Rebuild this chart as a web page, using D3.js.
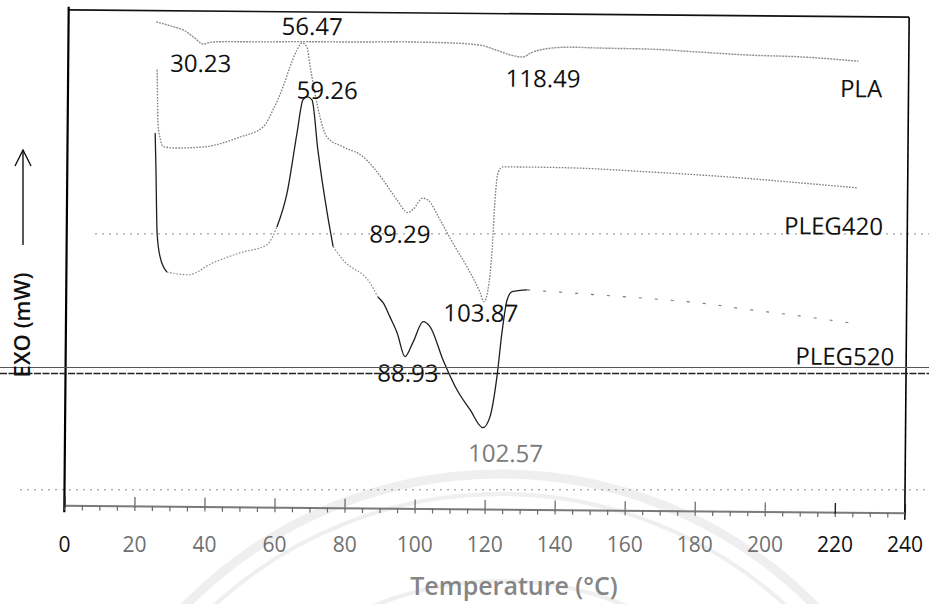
<!DOCTYPE html>
<html>
<head>
<meta charset="utf-8">
<script src="https://cdn.jsdelivr.net/npm/d3@7"></script>
<style>
  html, body { margin: 0; padding: 0; background: #fff; }
  svg { display: block; }
  text { font-family: "Open Sans", "Noto Sans", sans-serif; }
</style>
</head>
<body>
<svg id="chart" width="929" height="604"></svg>
<script>
// DSC heating scans: temperature (°C) and heat flow (mW, exo up)
const tempPLA = [25.0, 29.0, 33.3, 36.1, 38.4, 41.0, 46.1, 54.7, 66.1, 80.4, 94.7, 109.0, 117.5, 121.9, 126.2, 129.9, 131.9, 136.2, 143.3, 151.9, 166.2, 180.4, 194.7, 209.0, 225.6];
const flowPLA = [3.27, 3.21, 3.13, 3.02, 2.93, 2.96, 2.97, 2.97, 2.98, 2.98, 2.99, 2.98, 2.95, 2.88, 2.80, 2.77, 2.83, 2.90, 2.93, 2.92, 2.91, 2.87, 2.83, 2.81, 2.75];

const tempPLEG420 = [25.4, 25.6, 25.8, 26.4, 27.3, 30.7, 38.7, 49.2, 55.8, 58.6, 61.4, 63.3, 65.3, 66.7, 68.1, 69.1, 70.5, 72.0, 74.1, 78.7, 84.4, 87.3, 90.2, 94.2, 97.4, 98.8, 101.6, 103.1, 106.6, 110.3, 114.4, 118.2, 119.3, 120.4, 121.5, 122.2, 123.0, 124.4, 132.1, 146.4, 166.4, 180.7, 195.0, 209.3, 225.8];
const flowPLEG420 = [2.52, 2.05, 1.66, 1.46, 1.32, 1.30, 1.32, 1.48, 1.64, 1.91, 2.27, 2.58, 2.85, 2.96, 2.90, 2.59, 2.18, 1.81, 1.49, 1.34, 1.19, 1.03, 0.83, 0.52, 0.32, 0.37, 0.55, 0.52, 0.21, -0.15, -0.52, -0.92, -1.06, -0.88, -0.25, 0.53, 0.96, 1.05, 1.05, 1.04, 0.99, 0.95, 0.90, 0.84, 0.77];

const tempPLEG520 = [25.0, 25.3, 25.8, 26.7, 28.7, 34.7, 41.8, 49.5, 57.2, 60.0, 62.8, 65.5, 67.1, 68.3, 69.7, 71.5, 74.3, 76.1, 79.0, 86.7, 89.0, 90.5, 92.5, 94.6, 96.9, 99.1, 102.0, 104.0, 107.8, 111.8, 115.6, 119.3, 121.3, 123.2, 124.5, 125.9, 127.3, 131.6, 141.0, 152.4, 166.7, 181.0, 195.3, 209.6, 226.2];
const flowPLEG520 = [1.53, 1.00, -0.03, -0.40, -0.64, -0.68, -0.49, -0.33, -0.20, 0.08, 0.61, 1.55, 2.07, 2.12, 2.07, 1.29, 0.31, -0.22, -0.43, -0.78, -1.00, -1.09, -1.31, -1.56, -1.93, -1.71, -1.38, -1.46, -1.98, -2.44, -2.75, -3.03, -2.86, -2.23, -1.55, -1.03, -0.90, -0.87, -0.90, -0.94, -0.99, -1.05, -1.15, -1.24, -1.36];

const seriesNames = ["PLA", "PLEG420", "PLEG520"];
const peakLabels = ["30.23", "56.47", "118.49", "59.26", "89.29", "103.87", "88.93", "102.57"];
const xTicks = [0, 20, 40, 60, 80, 100, 120, 140, 160, 180, 200, 220, 240];
const xMinorStep = 5;
const gridFlows = [0, -4];

const svg = d3.select("#chart");
const W = 929, H = 604;

const x = d3.scaleLinear().domain([0, 240]).range([66.5, 907]);
const y = d3.scaleLinear().domain([-4.3, 3.445]).range([509, 13.5]);

const zip = (t, f) => t.map((d, i) => ({ t: d, f: f[i] }));
const series = [
  { name: seriesNames[0], pts: zip(tempPLA, flowPLA) },
  { name: seriesNames[1], pts: zip(tempPLEG420, flowPLEG420) },
  { name: seriesNames[2], pts: zip(tempPLEG520, flowPLEG520) }
];

const line = d3.line().x(d => x(d.t)).y(d => y(d.f)).curve(d3.curveMonotoneX);

// faint seal printed on the paper
const seal = svg.append("g").attr("fill", "none").attr("stroke", "#efefef");
seal.append("circle").attr("cx", 500).attr("cy", 916).attr("r", 442).attr("stroke-width", 9);
seal.append("circle").attr("cx", 500).attr("cy", 916).attr("r", 422).attr("stroke-width", 4);
seal.append("circle").attr("cx", 500).attr("cy", 916).attr("r", 335).attr("stroke-width", 4);

// dotted reference levels
svg.append("g").selectAll("line").data(gridFlows).join("line")
  .attr("x1", (d, i) => i === 0 ? 95 : 20).attr("x2", W)
  .attr("y1", d => y(d)).attr("y2", d => y(d))
  .attr("stroke", "#8a8a8a").attr("stroke-width", 1)
  .attr("stroke-dasharray", "2,5");

// frame, tick axis and traces sit on a slightly tilted sheet
const plot = svg.append("g").attr("transform", "rotate(0.5, 487, 262)");

plot.append("line").attr("x1", x(0)).attr("x2", x(240)).attr("y1", y.range()[1]).attr("y2", y.range()[1])
  .attr("stroke", "#111").attr("stroke-width", 1.6);
plot.append("line").attr("x1", x(0)).attr("x2", x(0)).attr("y1", y.range()[1] - 3).attr("y2", 516)
  .attr("stroke", "#000").attr("stroke-width", 2.2);
plot.append("line").attr("x1", x(240)).attr("x2", x(240)).attr("y1", y.range()[1]).attr("y2", 516)
  .attr("stroke", "#000").attr("stroke-width", 1.6);

const minorTicks = d3.range(0, 240 + 0.01, xMinorStep);
const axisMinor = plot.append("g").attr("transform", `translate(0,${y.range()[0]})`)
  .call(d3.axisBottom(x).tickValues(minorTicks).tickSize(5).tickSizeOuter(0).tickFormat(""));
axisMinor.select(".domain").attr("stroke", "#7a7a7a").attr("stroke-width", 2);
axisMinor.selectAll(".tick line").attr("stroke", "#6a6a6a").attr("stroke-width", 1.2);

const axisMajor = plot.append("g").attr("transform", `translate(0,${y.range()[0] + 2})`)
  .call(d3.axisTop(x).tickValues(xTicks).tickSize(11).tickSizeOuter(0).tickFormat(""));
axisMajor.select(".domain").remove();
axisMajor.selectAll(".tick line").attr("stroke", (d) => (d === 0 || d >= 220) ? "#222" : "#777").attr("stroke-width", 1.4);

// traces; the PLEG520 scan prints faint over its slow stretches and its tail
const styles = {
  PLA:     { stroke: "#8d8d8d", width: 1.4, dash: "2,1" },
  PLEG420: { stroke: "#7c7c7c", width: 1.3, dash: "1.6,1.4" },
  PLEG520: { stroke: "#1e1e1e", width: 1.3, dash: null }
};
const faint = { stroke: "#8a8a8a", width: 1.2, dash: "1.6,1.6" };
const tail = { stroke: "#777", width: 1.1, dash: "3,13" };
const pleg520Runs = [
  { lo: 25.0, hi: 28.7, st: styles.PLEG520 },
  { lo: 28.7, hi: 60.0, st: faint },
  { lo: 60.0, hi: 76.1, st: styles.PLEG520 },
  { lo: 76.1, hi: 89.0, st: faint },
  { lo: 89.0, hi: 131.6, st: styles.PLEG520 },
  { lo: 131.6, hi: 240, st: tail }
];
function drawPath(pts, st) {
  plot.append("path").datum(pts)
    .attr("d", line).attr("fill", "none")
    .attr("stroke", st.stroke).attr("stroke-width", st.width)
    .attr("stroke-dasharray", st.dash);
}
series.forEach(s => {
  if (s.name === "PLEG520") {
    pleg520Runs.forEach(r => drawPath(s.pts.filter(d => d.t >= r.lo && d.t <= r.hi), r.st));
  } else {
    drawPath(s.pts, styles[s.name]);
  }
});

// peak annotations attached to the extremum of a trace within a window
function extremum(pts, lo, hi, kind) {
  const win = pts.filter(d => d.t >= lo && d.t <= hi);
  return kind === "max" ? d3.greatest(win, d => d.f) : d3.least(win, d => d.f);
}
const byName = Object.fromEntries(series.map(s => [s.name, s.pts]));
const annotations = [
  { text: peakLabels[0], s: "PLA",     lo: 35,  hi: 45,  kind: "min", dx: -2, dy: 28, fill: "#111" },
  { text: peakLabels[1], s: "PLEG420", lo: 60,  hi: 72,  kind: "max", dx: 10, dy: -8, fill: "#111" },
  { text: peakLabels[2], s: "PLA",     lo: 120, hi: 140, kind: "min", dx: 20, dy: 30, fill: "#111" },
  { text: peakLabels[3], s: "PLEG520", lo: 60,  hi: 75,  kind: "max", dx: 20, dy: 2,  fill: "#111" },
  { text: peakLabels[4], s: "PLEG420", lo: 90,  hi: 100, kind: "min", dx: -8, dy: 30, fill: "#111" },
  { text: peakLabels[5], s: "PLEG420", lo: 110, hi: 125, kind: "min", dx: -3, dy: 20, fill: "#111" },
  { text: peakLabels[6], s: "PLEG520", lo: 90,  hi: 100, kind: "min", dx: 3,  dy: 25, fill: "#111" },
  { text: peakLabels[7], s: "PLEG520", lo: 110, hi: 125, kind: "min", dx: 23, dy: 34, fill: "#7a7a7a" }
];
annotations.forEach(a => {
  const p = extremum(byName[a.s], a.lo, a.hi, a.kind);
  plot.append("text")
    .attr("x", x(p.t) + a.dx).attr("y", y(p.f) + a.dy)
    .attr("text-anchor", "middle").attr("font-size", 24)
    .attr("fill", a.fill).text(a.text);
});

// series names near the end of each trace
const nameOffsets = { PLA: [3, 36], PLEG420: [-24, 47], PLEG520: [-13, 41] };
series.forEach(s => {
  const last = s.pts[s.pts.length - 1];
  const [dx, dy] = nameOffsets[s.name];
  plot.append("text")
    .attr("x", x(last.t) + dx).attr("y", y(last.f) + dy)
    .attr("text-anchor", "middle").attr("font-size", 24)
    .attr("fill", "#111").text(s.name);
});

// rule across the page
svg.append("line").attr("x1", 0).attr("x2", W).attr("y1", 367.5).attr("y2", 367.5)
  .attr("stroke", "#555").attr("stroke-width", 1);
svg.append("line").attr("x1", 0).attr("x2", W).attr("y1", 373.5).attr("y2", 373.5)
  .attr("stroke", "#222").attr("stroke-width", 1.4).attr("stroke-dasharray", "7,1.5");

// tick labels
svg.append("g").selectAll("text").data(xTicks).join("text")
  .attr("x", d => x(d) - 2).attr("y", 552)
  .attr("text-anchor", "middle").attr("font-size", 21)
  .attr("fill", d => (d === 0 || d >= 220) ? "#111" : "#707070")
  .text(d => d);

// axis titles
svg.append("text").attr("x", 514).attr("y", 595)
  .attr("text-anchor", "middle").attr("font-size", 25).attr("font-weight", 600)
  .attr("fill", "#858585").text("Temperature (°C)");

svg.append("text")
  .attr("transform", "translate(30,325) rotate(-90)")
  .attr("text-anchor", "middle").attr("font-size", 22).attr("font-weight", 600)
  .attr("fill", "#111").text("EXO (mW)");

const arrow = svg.append("g").attr("stroke", "#111").attr("stroke-width", 1.4).attr("fill", "none");
arrow.append("line").attr("x1", 23).attr("x2", 23).attr("y1", 245).attr("y2", 150);
arrow.append("path").attr("d", "M15,166 L23,150 L31,166");
</script>
</body>
</html>
